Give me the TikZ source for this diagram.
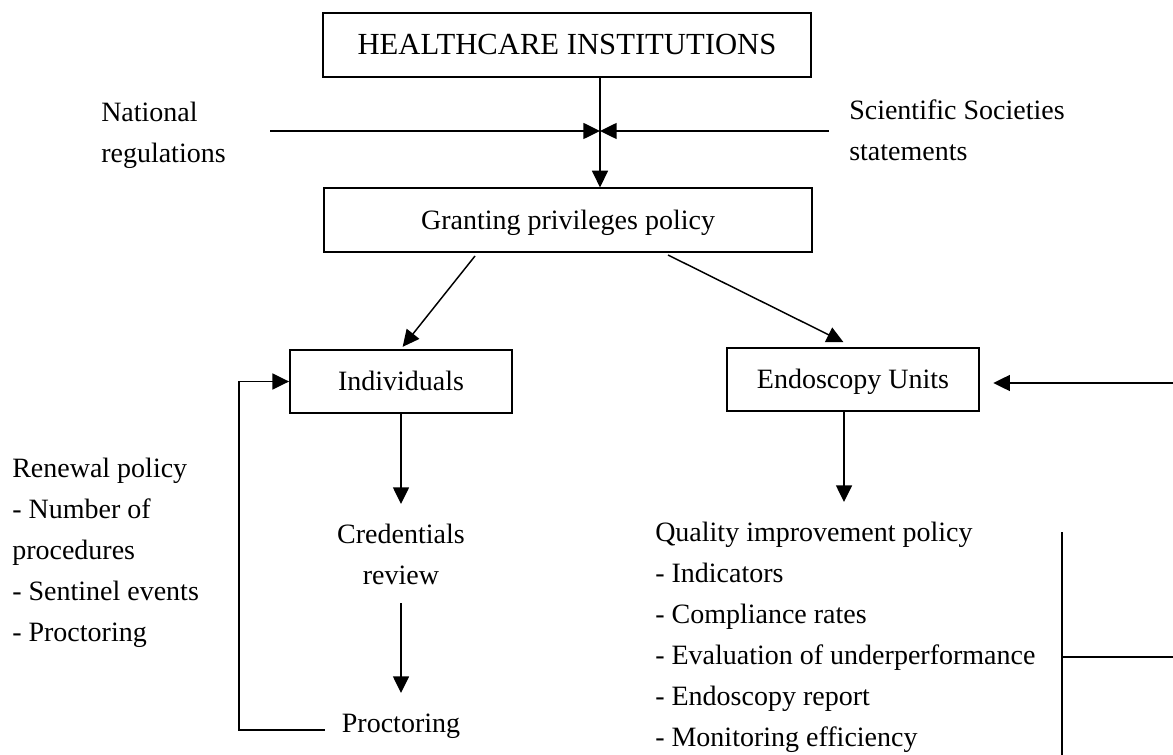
\documentclass[tikz,border=0pt]{standalone}
\usepackage{fontspec}
\setmainfont{Liberation Serif}
\usepackage{tikz}
\usetikzlibrary{arrows.meta,positioning}

\tikzset{
  box/.style={draw,line width=1.4pt,inner sep=0pt,minimum height=47.5pt,text height=15pt,text depth=1pt},
  lbl/.style={inner sep=0.75pt,font=\fontsize{21}{30.75}\selectfont},
  arr/.style={line width=1.1pt,-{Triangle[length=12.5pt,width=12pt]}},
  ln/.style={line width=1.1pt}
}

\begin{document}
\begin{tikzpicture}[x=0.75pt,y=0.75pt,yscale=-1,xscale=1]
\useasboundingbox (0,0) rectangle (1173,755); %set diagram to the size of the reference
%Shape: Rectangle [id:hc]
\draw (567,45) node [box,minimum width=366pt] [lbl,font=\fontsize{23}{30.75}\selectfont] (hc) {HEALTHCARE INSTITUTIONS};
%Shape: Rectangle [id:gp]
\draw (568,220) node [box,minimum width=366pt] [lbl] (gp) {Granting privileges policy};
%Shape: Rectangle [id:ind]
\draw (401,381.5) node [box,minimum width=166.5pt] [lbl] (ind) {Individuals};
%Shape: Rectangle [id:eu]
\draw (853,379.5) node [box,minimum width=189pt] [lbl] (eu) {Endoscopy Units};
% Text Node
\draw (100,135) node [anchor=west][lbl,align=left] (nat) {National\\regulations};
% Text Node
\draw (848,130) node [anchor=west][lbl,align=left] (sci) {Scientific Societies\\statements};
% Text Node
\draw (11,553) node [anchor=west][lbl,align=left] (ren) {Renewal policy\\- Number of\\procedures\\- Sentinel events\\- Proctoring};
% Text Node
\draw (401,554) node [lbl,align=center] (cred) {Credentials\\review};
% Text Node
\draw (401,726) node [lbl] (proc) {Proctoring};
% Text Node
\draw (654,637) node [anchor=west][lbl,align=left] (qip) {Quality improvement policy\\- Indicators\\- Compliance rates\\- Evaluation of underperformance\\- Endoscopy report\\- Monitoring efficiency};
%Free ends of the lines
\coordinate (jn) at (600,131);
\coordinate (natR) at (270,131);
\coordinate (sciL) at (829,131);
\coordinate (gpL) at (475,256);
\coordinate (gpR) at (668,255);
\coordinate (loop) at (239,730);
\coordinate (euIn) at (1173,383);
\coordinate (brT) at (1062,532);
\coordinate (brB) at (1062,755);
\coordinate (brO) at (1173,657);
%Straight Lines
\draw [arr] (natR) -- (jn);
\draw [arr] (sciL) -- (jn);
\draw [arr] (hc.south -| jn) -- (gp.north -| jn);
\draw [arr,shorten >=2pt] (gpL) -- (ind.north);
\draw [arr,shorten >=8pt] (gpR) -- (eu.north);
\draw [arr] (ind.south) -- (ind.south |- 0,504);
\draw [arr] (cred.south |- 0,603) -- (cred.south |- 0,693);
\draw [arr] (eu.south -| 844,0) -- (844,502);
\draw [arr,shorten >=10pt] (euIn) -- (euIn -| eu.east);
%Feedback line
\draw [arr] ([xshift=-12pt]proc.west |- 0,730) -- (loop) -- (loop |- ind.west) -- (ind.west);
%Bracket
\draw [ln] (brT) -- (brB);
\draw [ln] (brO -| brT) -- (brO);
\end{tikzpicture}
\end{document}
